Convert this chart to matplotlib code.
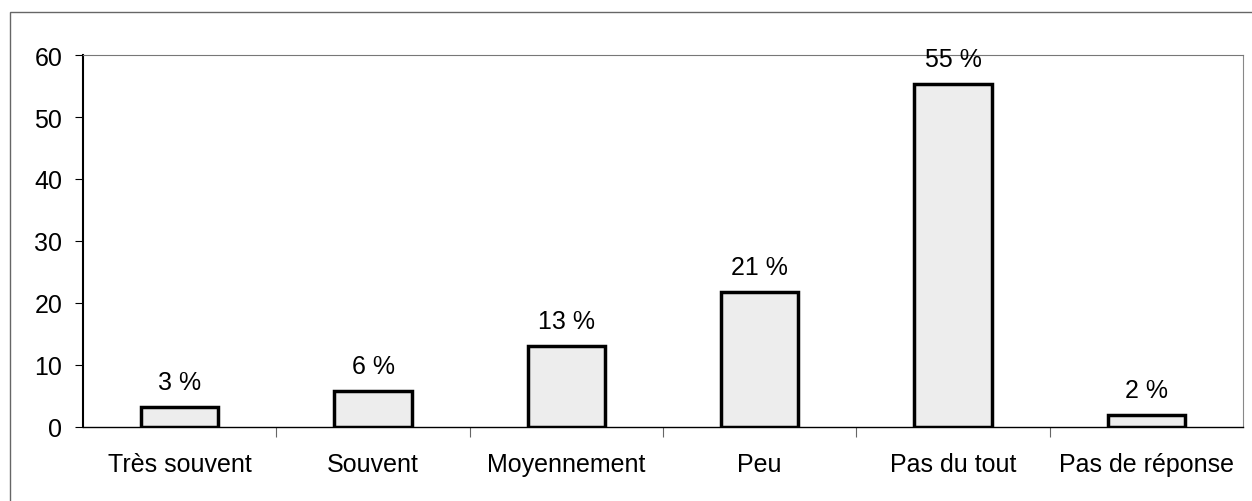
import numpy as np
import matplotlib.pyplot as plt
from matplotlib.patches import Rectangle

plt.rcParams['font.family'] = ['Liberation Sans', 'DejaVu Sans']

# %% data
categories = ["Très souvent", "Souvent", "Moyennement", "Peu", "Pas du tout", "Pas de réponse"]
values = [3.2, 5.8, 13.0, 21.7, 55.3, 2.0]
labels = ["3 %", "6 %", "13 %", "21 %", "55 %", "2 %"]
yticks = [0, 10, 20, 30, 40, 50, 60]

# %% plot
fig = plt.figure(figsize=(12.52, 5.02), dpi=100)
ax = fig.add_axes([83 / 1252, 74 / 502, 1160 / 1252, 372 / 502])

x = np.arange(len(categories))
bars = ax.bar(x, values, width=0.4, color="#ededed", edgecolor="black", linewidth=2.5, zorder=3)

for b, lab in zip(bars, labels):
    ax.annotate(lab, (b.get_x() + b.get_width() / 2, b.get_height()),
                xytext=(0, 13), textcoords="offset points",
                ha="center", va="baseline", fontsize=18)

ax.set_xlim(-0.5, len(categories) - 0.5)
ax.set_ylim(0, 60)
ax.set_yticks(yticks)
ax.tick_params(axis="y", labelsize=18, length=6, width=0.8, direction="out", pad=9)

ax.set_xticks(x)
ax.set_xticklabels(categories, fontsize=18)
ax.tick_params(axis="x", which="major", length=0, pad=18)
ax.set_xticks(np.arange(0.5, len(categories) - 1, 1), minor=True)
ax.tick_params(axis="x", which="minor", length=7, width=0.8, color="#666666", direction="out")

ax.spines["left"].set_linewidth(1.5)
ax.spines["bottom"].set_linewidth(1.0)
ax.spines["top"].set_color("#777777")
ax.spines["top"].set_linestyle((0, (4, 1)))
ax.spines["top"].set_linewidth(0.8)
ax.spines["right"].set_color("#888888")
ax.spines["right"].set_linewidth(0.8)

# scanned frame around the chart
fig.patches.append(Rectangle((10 / 1252, -0.1), 1.2, 1.074, transform=fig.transFigure,
                             fill=False, edgecolor="#666666", linewidth=1.0))

fig.savefig("out.png", dpi=100)
